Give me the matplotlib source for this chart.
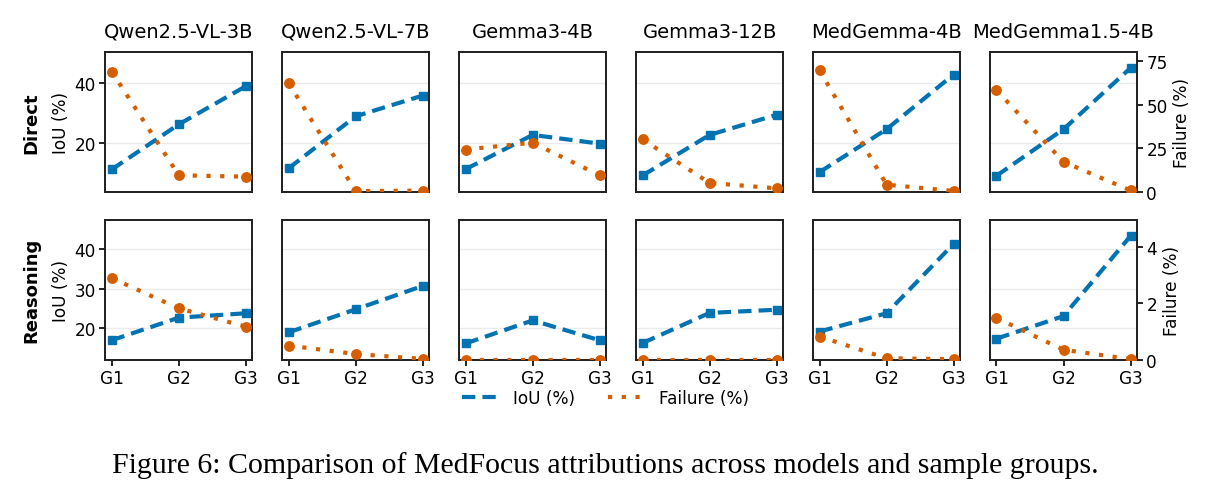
import numpy as np
import matplotlib
matplotlib.use("Agg")
import matplotlib.pyplot as plt

# Data
models = ["Qwen2.5-VL-3B", "Qwen2.5-VL-7B", "Gemma3-4B", "Gemma3-12B", "MedGemma-4B", "MedGemma1.5-4B"]
groups = ["G1", "G2", "G3"]
rows = ["Direct", "Reasoning"]

iou_direct = [
    [11.3, 26.3, 39.0],
    [11.7, 29.0, 35.9],
    [11.4, 22.8, 19.9],
    [9.3, 22.8, 29.5],
    [10.4, 24.7, 42.9],
    [9.2, 24.7, 45.1],
]
fail_direct = [
    [69.2, 9.6, 8.8],
    [62.5, 0.5, 0.8],
    [24.4, 28.3, 9.6],
    [30.2, 5.2, 2.1],
    [69.8, 4.2, 0.6],
    [58.5, 17.3, 0.9],
]
iou_reason = [
    [17.0, 22.7, 23.8],
    [19.0, 24.8, 30.7],
    [16.2, 22.0, 17.0],
    [16.3, 23.9, 24.7],
    [19.2, 23.8, 41.3],
    [17.4, 23.1, 43.3],
]
fail_reason = [
    [2.89, 1.82, 1.17],
    [0.50, 0.20, 0.03],
    [0.0, 0.0, 0.0],
    [0.0, 0.0, 0.0],
    [0.82, 0.05, 0.02],
    [1.48, 0.35, 0.02],
]

iou_data = [iou_direct, iou_reason]
fail_data = [fail_direct, fail_reason]
iou_lims = [(3.8, 50.4), (12.1, 47.4)]
fail_lims = [(0, 80.4), (0, 4.96)]
iou_ticks = [[20, 40], [20, 30, 40]]
fail_ticks = [[0, 25, 50, 75], [0, 2, 4]]

BLUE = "#0173b2"
ORANGE = "#d55e00"
FS = 12.2

fig = plt.figure(figsize=(12.11, 5.02), dpi=100)
axes = fig.subplots(2, 6, sharex=True)
fig.subplots_adjust(left=0.0867, right=0.9391, top=0.8944, bottom=0.2815,
                    wspace=0.2, hspace=0.198)

x = np.arange(len(groups))
twins = []
for r in range(2):
    for c in range(6):
        ax = axes[r, c]
        tw = ax.twinx()
        twins.append(tw)
        ax.plot(x, iou_data[r][c], color=BLUE, ls=(0, (3.2, 1.7)), lw=3,
                marker="s", ms=5.8, label="IoU (%)", zorder=3)
        tw.plot(x, fail_data[r][c], color=ORANGE, ls=(0, (1, 2.3)), lw=3,
                marker="o", ms=6.8, label="Failure (%)", zorder=3)
        ax.set_xlim(-0.1, 2.1)
        ax.set_ylim(*iou_lims[r])
        tw.set_ylim(*fail_lims[r])
        ax.set_yticks(iou_ticks[r])
        tw.set_yticks(fail_ticks[r])
        ax.yaxis.grid(True, color="#ebebeb", lw=1)
        ax.set_axisbelow(True)
        for a in (ax, tw):
            for s in a.spines.values():
                s.set_linewidth(1.3)
                s.set_color("#222222")
        ax.tick_params(axis="both", labelsize=FS, width=1.2, length=4, pad=2.5)
        tw.tick_params(axis="both", labelsize=FS, width=1.2, length=4, pad=2.5)
        if c != 0:
            ax.tick_params(left=False, labelleft=False)
        else:
            ax.set_ylabel("IoU (%)", fontsize=FS, labelpad=3)
            ax.text(-0.5, 0.5, rows[r], transform=ax.transAxes, rotation=90,
                    fontsize=13, fontweight="bold", ha="center", va="center")
        if c != 5:
            tw.tick_params(right=False, labelright=False)
        else:
            tw.set_ylabel("Failure (%)", fontsize=FS, labelpad=4)
        if r == 0:
            ax.set_title(models[c], fontsize=14, pad=11)
            ax.tick_params(bottom=False)
        else:
            ax.set_xticks(x)
            ax.set_xticklabels(groups)

h1, l1 = axes[0, 0].get_legend_handles_labels()
h2, l2 = twins[0].get_legend_handles_labels()
fig.legend(h1 + h2, l1 + l2, loc="center", bbox_to_anchor=(0.5, 0.205), ncol=2,
           frameon=False, fontsize=FS, handlelength=2.2, handletextpad=0.8,
           columnspacing=2.0, markerscale=0)

fig.text(0.5, 0.072, "Figure 6: Comparison of MedFocus attributions across models and sample groups.",
         ha="center", va="center", fontsize=21.5, family="Liberation Serif")

fig.savefig("out.png", dpi=100)
